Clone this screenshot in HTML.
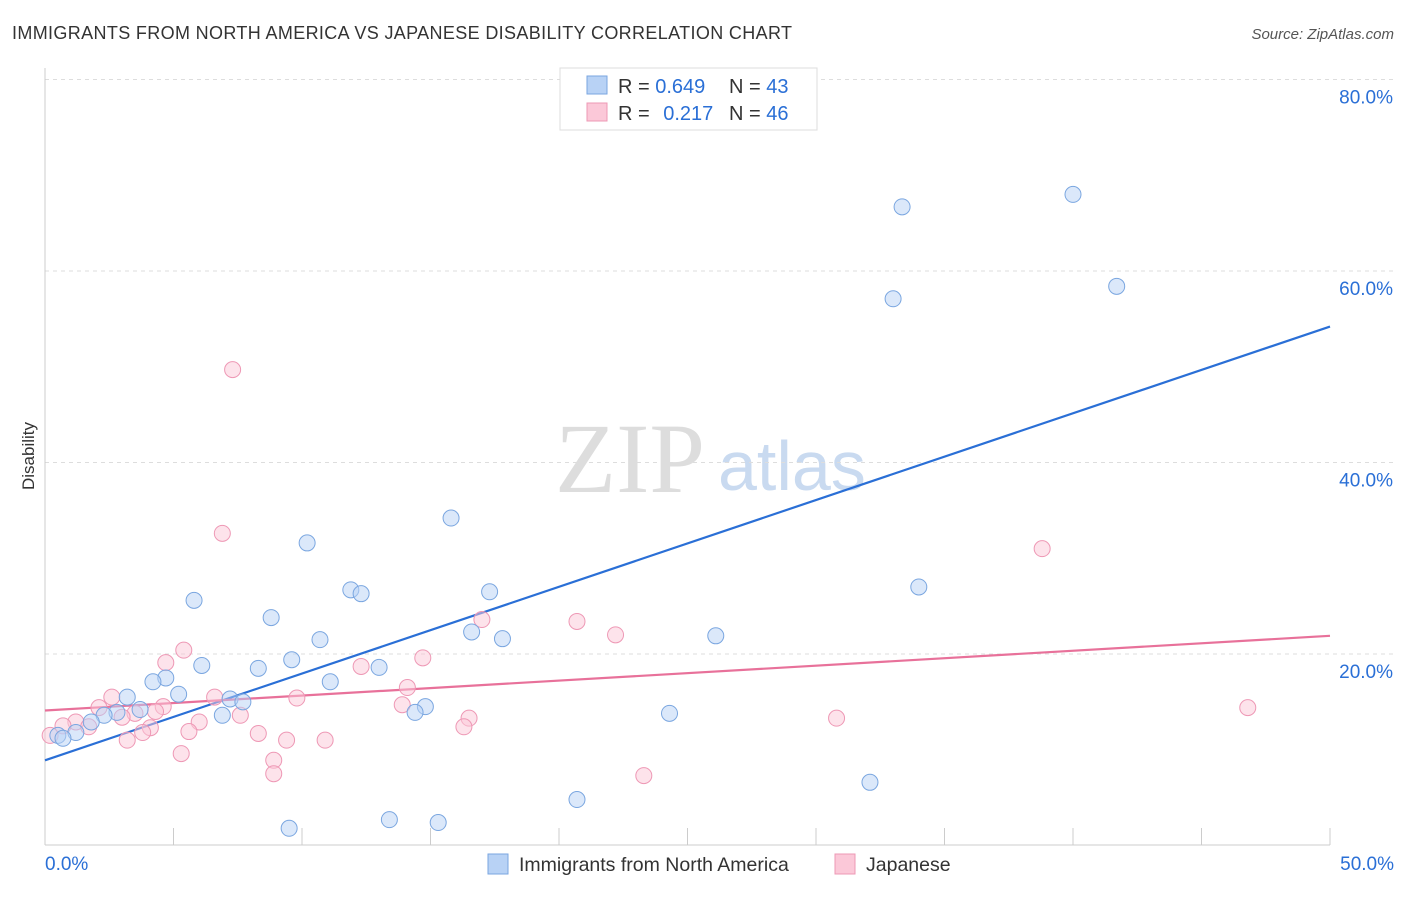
<!DOCTYPE html>
<html><head><meta charset="utf-8"><style>
body{margin:0;background:#fff;font-family:"Liberation Sans",sans-serif;}
svg text{font-family:"Liberation Sans",sans-serif;}
</style></head><body>
<svg id="chart" width="1406" height="892">
<text x="12" y="39" font-size="18" fill="#333" textLength="780">IMMIGRANTS FROM NORTH AMERICA VS JAPANESE DISABILITY CORRELATION CHART</text>
<text x="1394" y="39" font-size="15" fill="#555" font-style="italic" text-anchor="end">Source: ZipAtlas.com</text>
<text x="34" y="456" font-size="17" fill="#333" transform="rotate(-90 34 456)" text-anchor="middle">Disability</text>
<text x="555" y="492" font-size="100" fill="#ddd" style="font-family:'Liberation Serif',serif">ZIP</text>
<text x="718" y="490" font-size="70" fill="#c9daf0">atlas</text>
<g id="grid"></g><g id="axes"></g><g id="lines"></g><g id="pts"></g>
<g>
<rect x="560" y="68" width="257" height="62" fill="#fff" stroke="#ddd"/>
<rect x="587" y="76" width="20" height="18" fill="#b8d2f5" stroke="#7aa6e0"/>
<rect x="587" y="103" width="20" height="18" fill="#fbc8d8" stroke="#ee98b5"/>
<text x="618" y="93" font-size="20" fill="#333">R = <tspan fill="#2a6fd6">0.649</tspan><tspan x="729">N = </tspan><tspan fill="#2a6fd6">43</tspan></text>
<text x="618" y="120" font-size="20" fill="#333">R = <tspan fill="#2a6fd6" dx="8">0.217</tspan><tspan x="729">N = </tspan><tspan fill="#2a6fd6">46</tspan></text>
</g>
<g>
<rect x="488" y="854" width="20" height="20" fill="#b8d2f5" stroke="#7aa6e0"/>
<text x="519" y="871" font-size="19.5" fill="#333">Immigrants from North America</text>
<rect x="835" y="854" width="20" height="20" fill="#fbc8d8" stroke="#ee98b5"/>
<text x="866" y="871" font-size="19.5" fill="#333">Japanese</text>
</g>
</svg>
<script>
const yTicks=[20,40,60,80];
const yTickLabels=["20.0%","40.0%","60.0%","80.0%"];
const xTickLabels=["0.0%","50.0%"];
const blueX=[33.35,40.0,33.0,41.7,15.8,10.2,11.9,12.3,17.3,34.0,5.8,8.8,16.6,17.8,26.1,10.7,9.6,6.1,8.3,13.0,4.7,4.2,11.1,5.2,3.2,7.2,7.7,14.8,14.4,24.3,6.9,3.7,2.8,2.3,1.8,1.2,0.5,0.7,20.7,32.1,13.4,15.3,9.5];
const blueY=[66.7,68.0,57.1,58.4,34.2,31.6,26.7,26.3,26.5,27.0,25.6,23.8,22.3,21.6,21.9,21.5,19.4,18.8,18.5,18.6,17.5,17.1,17.1,15.8,15.5,15.3,15.0,14.5,13.9,13.8,13.6,14.2,13.9,13.6,12.9,11.8,11.5,11.2,4.8,6.6,2.7,2.4,1.8];
const pinkX=[7.3,6.9,38.8,17.0,20.7,22.2,5.4,14.7,4.7,12.3,14.1,2.6,6.6,9.8,13.9,2.1,4.6,3.5,4.3,7.6,46.8,16.5,30.8,3.0,6.0,1.2,0.7,1.7,4.1,5.6,16.3,8.3,3.8,3.2,9.4,10.9,5.3,8.9,8.9,23.3,0.2];
const pinkY=[49.7,32.6,31.0,23.6,23.4,22.0,20.4,19.6,19.1,18.7,16.5,15.5,15.5,15.4,14.7,14.4,14.5,13.8,14.0,13.6,14.4,13.3,13.3,13.4,12.9,12.9,12.5,12.4,12.3,11.9,12.4,11.7,11.8,11.0,11.0,11.0,9.6,8.9,7.5,7.3,11.5];
const blueTrend=[8.9,54.2];
const pinkTrend=[14.1,21.9];
const NS="http://www.w3.org/2000/svg";
const X=v=>45+v*25.7, Y=v=>845.5-v*9.575;
function mk(t,a,p){const e=document.createElementNS(NS,t);for(const k in a)e.setAttribute(k,a[k]);p.appendChild(e);return e;}
const grid=document.getElementById('grid'),axes=document.getElementById('axes'),lines=document.getElementById('lines'),pts=document.getElementById('pts');
yTicks.forEach((t,i)=>{
 const l=mk('line',{x1:45,x2:1394,y1:Y(t),y2:Y(t),stroke:'#ddd','stroke-dasharray':'4,4'},grid);
 
 
 const tx=mk('text',{x:1393,y:Y(t)+24,'font-size':19,fill:'#2a6fd6','text-anchor':'end'},axes);
 tx.textContent=yTickLabels[i];
 
 
});
mk('line',{x1:45,x2:45,y1:68,y2:845,stroke:'#ccc'},axes);
mk('line',{x1:45,x2:1330,y1:845,y2:845,stroke:'#ccc'},axes);
for(let i=1;i<=10;i++){mk('line',{x1:X(i*5),x2:X(i*5),y1:828,y2:845,stroke:'#ccc'},axes);}
[[0,'start',45],[50,'end',1394]].forEach((d,i)=>{
 const tx=mk('text',{x:d[2],y:870,'font-size':19,fill:'#2a6fd6','text-anchor':d[1]},axes);
 tx.textContent=xTickLabels[i];
 
 
});
const draw=(xs,ys,fill,stroke,name)=>xs.forEach((x,i)=>{
 const c=mk('circle',{cx:X(x),cy:Y(ys[i]),r:8,fill:fill,'fill-opacity':0.5,stroke:stroke,'stroke-width':1},pts);
 
 
});
draw(pinkX,pinkY,'#fbc8d8','#ee98b5','japanese-point');
draw(blueX,blueY,'#b8d2f5','#7aa6e0','north-america-point');
const bt=mk('line',{x1:X(0),y1:Y(blueTrend[0]),x2:X(50),y2:Y(blueTrend[1]),stroke:'#2a6fd6','stroke-width':2.2},lines);


const pt=mk('line',{x1:X(0),y1:Y(pinkTrend[0]),x2:X(50),y2:Y(pinkTrend[1]),stroke:'#e8719a','stroke-width':2.2},lines);


</script>
</body></html>
